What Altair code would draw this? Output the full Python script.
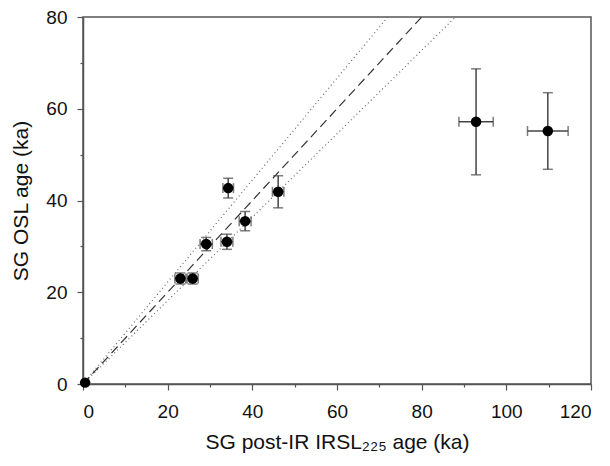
import altair as alt
import pandas as pd

# sample points
x_age = [0.5, 23.0, 25.9, 29.1, 34.0, 34.3, 38.3, 46.1, 92.85, 109.8]
y_age = [0.3, 23.0, 23.0, 30.5, 31.0, 42.7, 35.5, 41.9, 57.15, 55.15]
x_err = [0.0, 1.3, 1.3, 1.45, 1.4, 1.25, 1.4, 1.35, 4.05, 4.8]
y_err = [0.0, 1.2, 1.2, 1.45, 1.65, 2.15, 2.1, 3.5, 11.55, 8.35]

# reference lines (1:1 and ±10 %)
line_names = ["1:1", "upper", "lower"]
line_x_end = [80, 72, 88]
line_y_end = [80, 80, 80]

FONT = "Liberation Sans"

df = pd.DataFrame({"x": x_age, "y": y_age, "xe": x_err, "ye": y_err})
df["xlo"] = df["x"] - df["xe"]
df["xhi"] = df["x"] + df["xe"]
df["ylo"] = df["y"] - df["ye"]
df["yhi"] = df["y"] + df["ye"]
err = df[df["ye"] > 0]

rows = []
for n, xe, ye in zip(line_names, line_x_end, line_y_end):
    rows.append({"name": n, "x": 0, "y": 0})
    rows.append({"name": n, "x": xe, "y": ye})
lines = pd.DataFrame(rows)

minor_cond = lambda: {"condition": {"test": "datum.value % 20 === 0", "value": 6}, "value": 3}

xscale = alt.Scale(domain=[0, 120], nice=False, zero=False)
yscale = alt.Scale(domain=[0, 80], nice=False, zero=False)

xaxis = alt.Axis(
    title="SG post-IR IRSL₂₂₅ age (ka)",
    values=list(range(0, 121, 10)),
    labelExpr="datum.value % 20 === 0 ? datum.label : ''",
    tickSize=minor_cond(),
    grid=False,
    labelPadding=12,
    titlePadding=10,
)
yaxis = alt.Axis(
    title="SG OSL age (ka)",
    values=list(range(0, 81, 10)),
    labelExpr="datum.value % 20 === 0 ? datum.label : ''",
    tickSize=minor_cond(),
    grid=False,
    labelPadding=10,
    titlePadding=14,
)

X = alt.X("x:Q", scale=xscale, axis=xaxis)
Y = alt.Y("y:Q", scale=yscale, axis=yaxis)

one_to_one = alt.Chart(lines[lines["name"] == "1:1"]).mark_line(
    color="#333", strokeWidth=1.2, strokeDash=[9, 5]
).encode(x=X, y=Y, detail="name:N")

bounds = alt.Chart(lines[lines["name"] != "1:1"]).mark_line(
    color="#666", strokeWidth=1.2, strokeDash=[1, 3]
).encode(x=X, y=Y, detail="name:N")

ebar_color = "#444"
vbar = alt.Chart(err).mark_rule(color=ebar_color, strokeWidth=1.5).encode(
    x=alt.X("x:Q", scale=xscale), y=alt.Y("ylo:Q", scale=yscale), y2="yhi:Q"
)
hbar = alt.Chart(err).mark_rule(color=ebar_color, strokeWidth=1.5).encode(
    y=alt.Y("y:Q", scale=yscale), x=alt.X("xlo:Q", scale=xscale), x2="xhi:Q"
)
cap_top = alt.Chart(err).mark_tick(color=ebar_color, orient="horizontal", size=10, thickness=1.5).encode(
    x=alt.X("x:Q", scale=xscale), y=alt.Y("yhi:Q", scale=yscale)
)
cap_bot = alt.Chart(err).mark_tick(color=ebar_color, orient="horizontal", size=10, thickness=1.5).encode(
    x=alt.X("x:Q", scale=xscale), y=alt.Y("ylo:Q", scale=yscale)
)
cap_l = alt.Chart(err).mark_tick(color=ebar_color, orient="vertical", size=10, thickness=1.5).encode(
    x=alt.X("xlo:Q", scale=xscale), y=alt.Y("y:Q", scale=yscale)
)
cap_r = alt.Chart(err).mark_tick(color=ebar_color, orient="vertical", size=10, thickness=1.5).encode(
    x=alt.X("xhi:Q", scale=xscale), y=alt.Y("y:Q", scale=yscale)
)

pts = alt.Chart(df).mark_circle(color="black", opacity=1, size=110).encode(x=X, y=Y)

chart = alt.layer(
    bounds, one_to_one, vbar, hbar, cap_top, cap_bot, cap_l, cap_r, pts
).properties(
    width=508, height=367,
    padding={"left": 83, "top": 17, "right": 19, "bottom": 82},
    autosize=alt.AutoSizeParams(type="none"),
    background="white",
).configure_view(
    stroke="#555", strokeWidth=1.5
).configure_axis(
    labelFont=FONT, titleFont=FONT, labelFontSize=19, titleFontSize=21,
    labelColor="#111", titleColor="#111", titleFontWeight="normal",
    domainColor="#555", tickColor="#555", domainWidth=1.5, tickWidth=1.2,
)

chart.save("out.html", embed_options={"renderer": "svg", "actions": False})
